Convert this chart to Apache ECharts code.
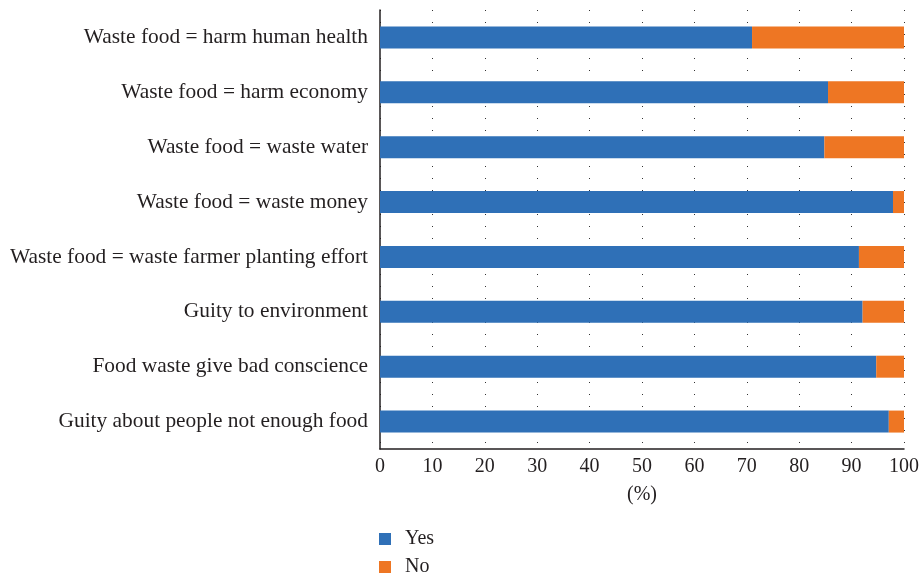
<!DOCTYPE html>
<html><head><meta charset="utf-8">
<script src="https://cdn.jsdelivr.net/npm/echarts@6/dist/echarts.min.js"></script>
<style>html,body{margin:0;padding:0;background:#fff}#c{width:922px;height:577px}</style>
</head><body><div id="c"></div>
<script>
const categories = [
  "Waste food = harm human health",
  "Waste food = harm economy",
  "Waste food = waste water",
  "Waste food = waste money",
  "Waste food = waste farmer planting effort",
  "Guity to environment",
  "Food waste give bad conscience",
  "Guity about people not enough food"
];
const yesValues = [71.0, 85.5, 84.8, 97.9, 91.4, 92.1, 94.7, 97.1];
const noValues = [29.0, 14.5, 15.2, 2.1, 8.6, 7.9, 5.3, 2.9];
const xTicks = [0, 10, 20, 30, 40, 50, 60, 70, 80, 90, 100];

const FONT = "Liberation Serif";
const FS = 21.4;
const chart = echarts.init(document.getElementById('c'), null, {renderer: 'canvas'});
chart.setOption({
  animation: false,
  textStyle: {fontFamily: FONT},
  grid: {left: 380, right: 18, top: 10, bottom: 128, containLabel: false},
  legend: {
    orient: 'vertical', left: 379, top: 529, height: 100, padding: 0,
    itemWidth: 12, itemHeight: 12, itemGap: 8,
    icon: 'rect',
    data: ['Yes', 'No'],
    textStyle: {fontFamily: FONT, fontSize: 20, color: '#231f20', padding: [0, 0, 0, 9]}
  },
  xAxis: {
    type: 'value', min: xTicks[0], max: xTicks[xTicks.length - 1], interval: 10,
    name: '(%)', nameLocation: 'middle', nameGap: 36,
    nameTextStyle: {fontFamily: FONT, fontSize: 20, color: '#231f20'},
    axisLine: {show: true, lineStyle: {color: '#231f20', width: 1.5}},
    axisTick: {show: false},
    axisLabel: {fontFamily: FONT, fontSize: 20, color: '#231f20', margin: 8},
    splitLine: {show: true, lineStyle: {color: '#333', width: 1, type: [1, 11], dashOffset: 0}}
  },
  yAxis: {
    type: 'category', data: categories, inverse: true,
    axisLine: {show: true, lineStyle: {color: '#231f20', width: 1.5}},
    axisTick: {show: false},
    axisLabel: {fontFamily: FONT, fontSize: FS, color: '#231f20', margin: 12},
    splitLine: {show: false}
  },
  series: [
    {name: 'Yes', type: 'bar', stack: 'a', data: yesValues, barWidth: 22,
     itemStyle: {color: '#2f70b7'}},
    {name: 'No', type: 'bar', stack: 'a', data: noValues, barWidth: 22,
     itemStyle: {color: '#ee7623'}}
  ]
});
</script></body></html>
